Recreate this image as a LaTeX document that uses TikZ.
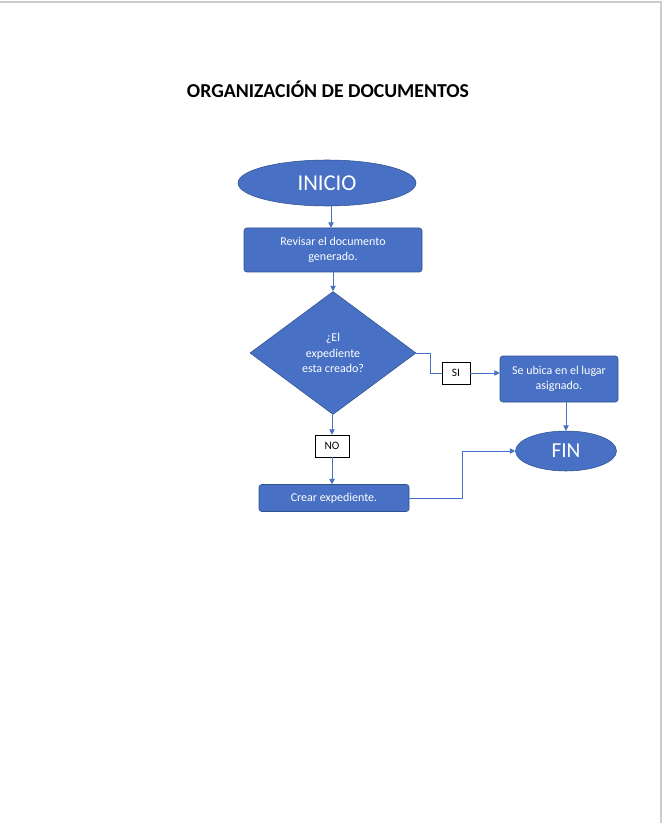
\documentclass[tikz,border=0pt]{standalone}
\usepackage{fontspec}
\setmainfont{Carlito}
\usetikzlibrary{shapes.geometric,arrows.meta}
\definecolor{azul}{RGB}{72,112,196}
\definecolor{borde}{RGB}{47,82,143}
\begin{document}
\begin{tikzpicture}[x=0.75pt,y=-0.75pt,
                        proceso/.style={shape=rectangle,rounded corners=2pt,fill=azul,draw=borde,text=white,font=\fontsize{9}{11.5}\selectfont,align=center,inner sep=0pt},
                        terminal/.style={shape=ellipse,fill=azul,draw=borde,text=white,inner sep=0pt},
                        decision/.style={shape=diamond,fill=azul,draw=borde,text=white,font=\fontsize{9}{11.5}\selectfont,align=center,inner sep=0pt},
                        etiqueta/.style={shape=rectangle,draw=black,fill=white,font=\fontsize{8.5}{10}\selectfont,inner sep=0pt,minimum height=16.5pt},
                        flecha/.style={draw=azul,line width=0.7pt,-{Triangle[width=4pt,length=4pt]}}]
                        \useasboundingbox (0,0) rectangle (665,823);
                        \fill[white] (0,0) rectangle (665,823);
                        \draw[gray!40,line width=1.5pt] (0,2) -- (661,2) -- (661,823);
                        \node[font=\fontsize{14.8}{17}\selectfont\bfseries] at (328,89) (titulo) {ORGANIZACIÓN DE DOCUMENTOS};
                        \node[terminal,minimum width=133.5pt,minimum height=34.5pt,font=\fontsize{17}{20}\selectfont] at (327,183) (inicio) {INICIO};
                        \node[proceso,minimum width=133.5pt,minimum height=33pt] at (333,250) (revisar) {Revisar el documento\\generado.};
                        \node[decision,minimum width=124.5pt,minimum height=92.25pt] at (333,353) (existe) {¿El\\expediente\\esta creado?};
                        \node[etiqueta,minimum width=21pt] at (456,373) (si) {SI};
                        \node[proceso,minimum width=88.5pt,minimum height=34.5pt] at (559,379) (ubica) {Se ubica en el lugar\\asignado.};
                        \node[terminal,minimum width=75.75pt,minimum height=30pt,font=\fontsize{16}{19}\selectfont] at (566,451) (fin) {FIN};
                        \node[etiqueta,minimum width=25.5pt] at (332,446) (no) {NO};
                        \node[proceso,minimum width=112.5pt,minimum height=20.25pt] at (334,498) (crear) {Crear expediente.};
                        \draw[flecha] (inicio.south -| 331,0) -- (revisar.north -| 331,0);
                        \draw[flecha] (revisar) -- (existe);
                        \draw[flecha,-] (existe.east) -- ++(14,0) |- (si.west);
                        \draw[flecha] (si.east) -- (ubica.west |- si.east);
                        \draw[flecha] (ubica.south -| fin.north) -- (fin.north);
                        \draw[flecha] (existe.south -| no.north) -- (no.north);
                        \draw[flecha] (no.south) -- (crear.north -| no.south);
                        \draw[flecha] (crear.east) -- ++(53,0) |- (fin.west);
                \end{tikzpicture}
\end{document}
